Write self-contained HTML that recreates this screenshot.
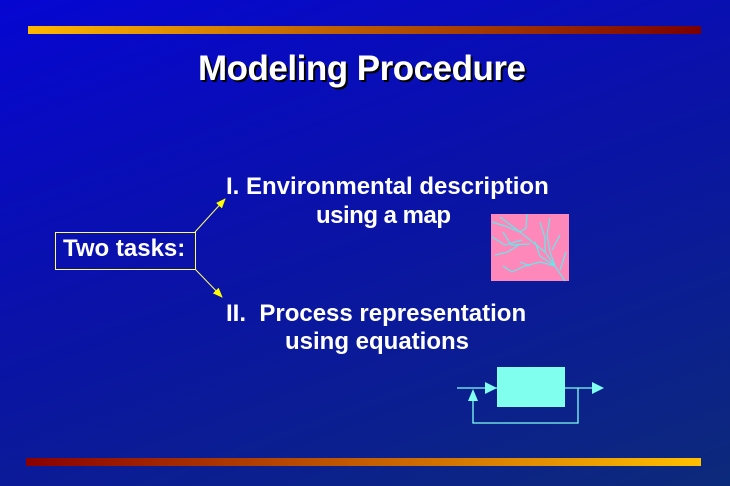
<!DOCTYPE html>
<html><head><style>
body{margin:0;width:730px;height:486px;overflow:hidden;background:linear-gradient(160deg,#0606d2 0%,#0a12a8 45%,#0c2a7a 100%);font-family:"Liberation Sans",sans-serif;position:relative}
.t{position:absolute;color:#fff;font-weight:bold;white-space:nowrap}
</style></head><body>
<div style="position:absolute;left:28px;top:26px;width:673px;height:8px;background:linear-gradient(90deg,#ffb800,#c66a00 40%,#7a0000)"></div>
<div style="position:absolute;left:26px;top:458px;width:675px;height:8px;background:linear-gradient(90deg,#8a0000,#d07000 60%,#ffc000)"></div>
<div class="t" style="left:198px;top:49px;font-size:35px;letter-spacing:-0.5px;text-shadow:2px 2px 0 #000">Modeling Procedure</div>
<div style="position:absolute;left:55px;top:232px;width:139px;height:36px;border:1px solid #ffff66"></div>
<div class="t" style="left:63px;top:235px;font-size:24px">Two tasks:</div>
<div class="t" style="left:226px;top:173px;font-size:24px">I. Environmental description</div>
<div class="t" style="left:316px;top:202px;font-size:24px;letter-spacing:-0.5px">using a map</div>
<div class="t" style="left:226px;top:300px;font-size:24px">II.&nbsp; Process representation</div>
<div class="t" style="left:285px;top:328px;font-size:24px">using equations</div>
<svg width="730" height="486" style="position:absolute;left:0;top:0">
<defs><marker id="a" markerWidth="10" markerHeight="8" refX="9" refY="4" orient="auto" markerUnits="userSpaceOnUse"><path d="M0,0L10,4L0,8z" fill="#ffff00"/></marker></defs>
<line x1="195" y1="232" x2="225" y2="199" stroke="#ffff66" stroke-width="1" marker-end="url(#a)"/>
<line x1="195" y1="269" x2="222" y2="297" stroke="#ffff66" stroke-width="1" marker-end="url(#a)"/>
<rect x="491" y="214" width="78" height="67" fill="#ff88bb"/>
<g stroke="#66e8e8" stroke-width="1.2" fill="none">
<path d="M500,217 L520,232 L545,252 L555,266 L565,281"/>
<path d="M527,214 L526,228 L520,232"/>
<path d="M492,222 L505,226 L520,232"/>
<path d="M503,232 L511,245 L530,244"/>
<path d="M492,237 L505,245 L522,240"/>
<path d="M495,255 L508,252 L520,244"/>
<path d="M540,222 L545,238 L545,252"/>
<path d="M550,218 L547,235 L550,252 L555,266"/>
<path d="M560,235 L552,250"/>
<path d="M535,242 L540,256 L555,266"/>
<path d="M503,266 L512,272 L525,266 L540,262 L555,266"/>
<path d="M520,262 L530,266"/>
<path d="M566,252 L560,270"/>
</g>
<g stroke="#80ffee" stroke-width="1.3" fill="none">
<line x1="457" y1="388" x2="497" y2="388"/>
<line x1="565" y1="388" x2="596" y2="388"/>
<polyline points="578,388 578,423 473,423 473,400"/>
</g>
<rect x="497" y="367" width="68" height="40" fill="#80ffee"/>
<path d="M485,382L497,388L485,394z" fill="#80ffee"/>
<path d="M592,382L604,388L592,394z" fill="#80ffee"/>
<path d="M468,401L473,389L478,401z" fill="#80ffee"/>
</svg>
</body></html>
